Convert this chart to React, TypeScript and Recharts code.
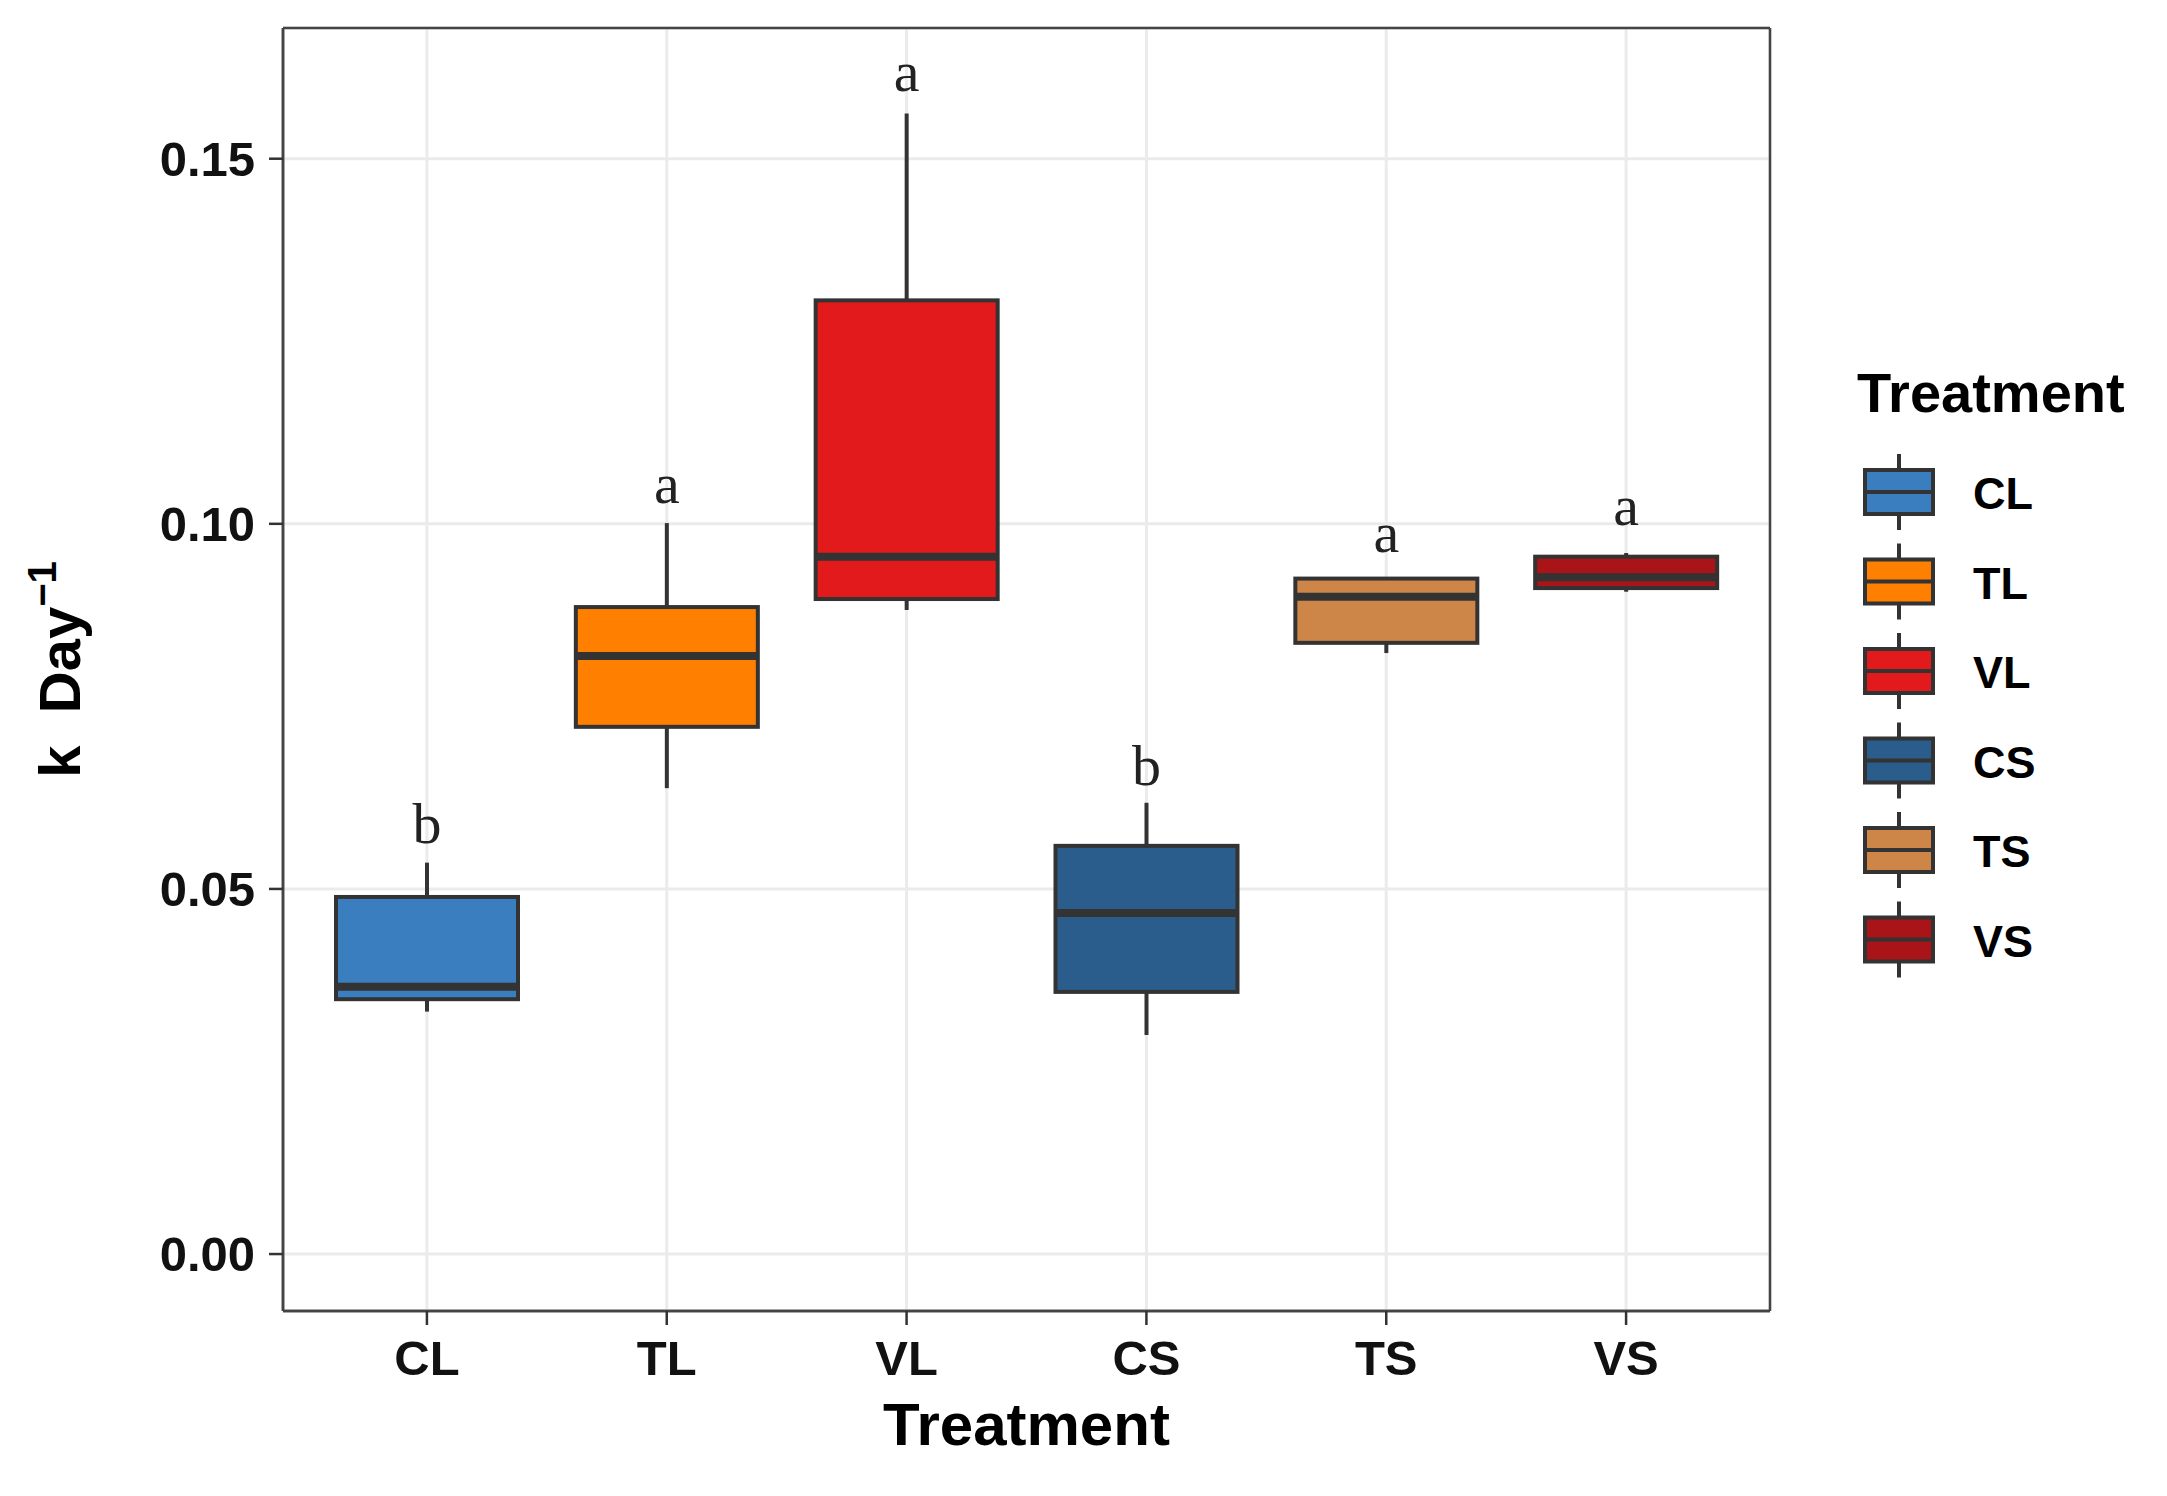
import React from "react";
import {
  ComposedChart,
  Bar,
  Scatter,
  XAxis,
  YAxis,
  CartesianGrid,
} from "recharts";

const CATEGORIES = ["CL", "TL", "VL", "CS", "TS", "VS"];
const FILLS = ["#3A7EBF", "#FF7F00", "#E31A1C", "#2A5D8B", "#CD8548", "#A91419"];

// five-number summaries
const WHISKER_LOW = [0.0332, 0.0638, 0.0882, 0.03, 0.0823, 0.0907];
const Q1 = [0.0349, 0.0722, 0.0897, 0.0359, 0.0837, 0.0912];
const MEDIAN = [0.0366, 0.0819, 0.0955, 0.0467, 0.09, 0.0927];
const Q3 = [0.0489, 0.0886, 0.1306, 0.0559, 0.0925, 0.0955];
const WHISKER_HIGH = [0.0536, 0.1001, 0.1562, 0.0618, 0.0927, 0.096];

// significance letters and the y of their baseline
const LETTERS = ["b", "a", "a", "b", "a", "a"];
const LETTER_Y = [0.0563, 0.1029, 0.1593, 0.0642, 0.0962, 0.0999];

const Y_TICKS = [0, 0.05, 0.1, 0.15];
const Y_MINOR = [0.025, 0.075, 0.125];
const Y_DOMAIN: [number, number] = [-0.0078, 0.1679];

const FONT = "'Liberation Sans', Arial, Helvetica, sans-serif";
const SERIF = "'Liberation Serif', 'Times New Roman', serif";
const LINE = "#333333";
const BORDER = { stroke: "#444", strokeWidth: 2.5 };
const GRID = "#EBEBEB";

const data = CATEGORIES.map((name, i) => ({
  name,
  range: [WHISKER_LOW[i], WHISKER_HIGH[i]],
  q1: Q1[i],
  median: MEDIAN[i],
  q3: Q3[i],
  letter: LETTERS[i],
  letterY: LETTER_Y[i],
}));

// minor gridlines placed with the y axis' own scale
const minorLines = (props: any) => {
  const scale = props?.yAxis?.scale;
  return typeof scale === "function" ? Y_MINOR.map((v) => scale(v)) : [];
};
const frameRows = (props: any) => {
  const o = props?.offset;
  return o ? [o.top, o.top + o.height] : [];
};
const frameCols = (props: any) => {
  const o = props?.offset;
  return o ? [o.left, o.left + o.width] : [];
};

// bar spans whisker-low..whisker-high; everything else is placed with the
// same pixels-per-unit the bar got from the y scale
function BoxShape(props: any) {
  const { x, y, width, height, payload } = props;
  const [lo, hi] = payload.range;
  const k = height / (hi - lo);
  const py = (v: number) => y + (hi - v) * k;
  const cx = x + width / 2;
  const fill = FILLS[CATEGORIES.indexOf(payload.name)];
  return (
    <g>
      <line x1={cx} x2={cx} y1={py(hi)} y2={py(payload.q3)} stroke={LINE} strokeWidth={4} />
      <line x1={cx} x2={cx} y1={py(payload.q1)} y2={py(lo)} stroke={LINE} strokeWidth={4} />
      <rect
        x={x}
        y={py(payload.q3)}
        width={width}
        height={py(payload.q1) - py(payload.q3)}
        fill={fill}
        stroke={LINE}
        strokeWidth={4}
      />
      <line
        x1={x}
        x2={x + width}
        y1={py(payload.median)}
        y2={py(payload.median)}
        stroke={LINE}
        strokeWidth={8}
      />
    </g>
  );
}

function LetterShape(props: any) {
  const { cx, cy, payload } = props;
  return (
    <text x={cx} y={cy} textAnchor="middle" fontFamily={SERIF} fontSize={58} fill="#222">
      {payload.letter}
    </text>
  );
}

function YLabel(props: any) {
  const vb = props.viewBox;
  const cy = vb.y + vb.height / 2;
  return (
    <text
      transform={`translate(80, ${cy}) rotate(-90)`}
      textAnchor="middle"
      fontFamily={FONT}
      fontWeight={700}
      fontSize={58}
      fill="#000"
    >
      <tspan>k{"\u00A0\u00A0"}Day</tspan>
      <tspan dy={-24} fontSize={40}>
        −1
      </tspan>
    </text>
  );
}

function XLabel(props: any) {
  const vb = props.viewBox;
  return (
    <text
      x={vb.x + vb.width / 2}
      y={vb.y + 134}
      textAnchor="middle"
      fontFamily={FONT}
      fontWeight={700}
      fontSize={60}
      fill="#000"
    >
      Treatment
    </text>
  );
}

function LegendBox() {
  const kx = 59;
  return (
    <svg width={327} height={660} style={{ position: "absolute", left: 1840, top: 340 }}>
      <text x={17} y={72} fontFamily={FONT} fontWeight={700} fontSize={56} fill="#000">
        Treatment
      </text>
      {CATEGORIES.map((c, i) => {
        const cy = 152 + i * 89.5;
        return (
          <g key={c}>
            <line x1={kx} x2={kx} y1={cy - 38} y2={cy + 38} stroke={LINE} strokeWidth={4} />
            <rect x={kx - 34} y={cy - 22} width={68} height={44} fill={FILLS[i]} stroke={LINE} strokeWidth={4} />
            <line x1={kx - 34} x2={kx + 34} y1={cy} y2={cy} stroke={LINE} strokeWidth={4} />
            <text x={133} y={cy + 17} fontFamily={FONT} fontWeight={700} fontSize={45} fill="#000">
              {c}
            </text>
          </g>
        );
      })}
    </svg>
  );
}

export default function App() {
  return (
    <div
      style={{
        position: "absolute",
        left: 0,
        top: 0,
        width: 2167,
        height: 1496,
        background: "#fff",
      }}
    >
      <ComposedChart
        width={2167}
        height={1496}
        data={data}
        margin={{ top: 28, right: 397, bottom: 0, left: 0 }}
      >
        <CartesianGrid
          vertical={false}
          stroke={GRID}
          strokeWidth={1.6}
          horizontalCoordinatesGenerator={minorLines}
        />
        <CartesianGrid stroke={GRID} strokeWidth={3} />
        <CartesianGrid
          stroke="#444"
          strokeWidth={2.5}
          horizontalCoordinatesGenerator={frameRows}
          verticalCoordinatesGenerator={frameCols}
        />
        <XAxis
          dataKey="name"
          height={185}
          padding={{ left: 24, right: 24 }}
          axisLine={BORDER}
          tickSize={14}
          tickMargin={15}
          tickLine={{ stroke: LINE, strokeWidth: 2.5 }}
          tick={{ fontSize: 49, fontWeight: 700, fill: "#111", fontFamily: FONT }}
          label={XLabel}
        />
        <YAxis
          type="number"
          width={283}
          domain={Y_DOMAIN}
          allowDataOverflow
          ticks={Y_TICKS}
          tickFormatter={(v: number) => v.toFixed(2)}
          axisLine={BORDER}
          tickSize={14}
          tickMargin={14}
          tickLine={{ stroke: LINE, strokeWidth: 2.5 }}
          tick={{ fontSize: 49, fontWeight: 700, fill: "#111", fontFamily: FONT }}
          label={YLabel}
        />
        <Bar dataKey="range" barSize={182} shape={BoxShape} isAnimationActive={false} />
        <Scatter dataKey="letterY" shape={LetterShape} isAnimationActive={false} />
      </ComposedChart>
      <LegendBox />
    </div>
  );
}
